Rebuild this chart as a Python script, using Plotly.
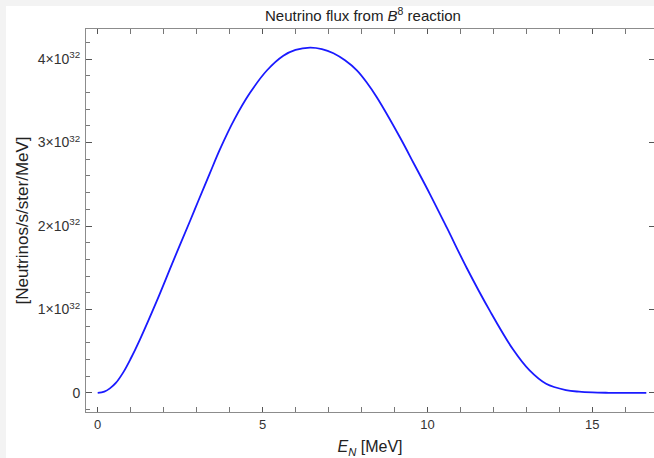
import plotly.graph_objects as go

# Data (energy in MeV, flux in units of 1e32)
energy = [0, 0.2, 0.37, 0.55, 0.78, 1.0, 1.28, 1.79, 2.29, 2.80, 3.05, 3.4, 3.71,
          4.15, 4.62, 5.13, 5.63, 6.0, 6.44, 6.8, 7.15, 7.5, 7.86, 8.15, 8.46, 9.17,
          9.6, 10.08, 10.59, 11.19, 11.9, 12.6, 13.1, 13.6, 14.2, 14.6, 15.0,
          15.5, 16.0, 16.64]
flux_e32 = [0, 0.016, 0.055, 0.12, 0.25, 0.41, 0.64, 1.1, 1.58, 2.06, 2.3, 2.63, 2.92,
            3.28, 3.595, 3.863, 4.04, 4.11, 4.138, 4.12, 4.07, 3.985, 3.865, 3.725, 3.545, 3.06,
            2.74, 2.38, 1.98, 1.5, 0.98, 0.52, 0.27, 0.11, 0.035, 0.015, 0.006,
            0.002, 0.0005, 0]
flux = [v * 1e32 for v in flux_e32]

x_tickvals = [0, 5, 10, 15]
y_tickvals = [0, 1e32, 2e32, 3e32, 4e32]
y_ticktext = ["0", "1×10<sup>32</sup>", "2×10<sup>32</sup>", "3×10<sup>32</sup>", "4×10<sup>32</sup>"]

W, H = 654, 458
L, R, T, B = 86, 0, 29, 46
PW, PH = W - L - R, H - T - B

fig = go.Figure()
fig.add_trace(go.Scatter(
    x=energy, y=flux, mode="lines",
    line=dict(color="#1a1aff", width=1.8, shape="spline", smoothing=1.0),
    hoverinfo="skip", showlegend=False,
))
# invisible copy to carry the right-hand mirrored ticks
fig.add_trace(go.Scatter(
    x=energy, y=flux, mode="lines", yaxis="y2",
    line=dict(color="rgba(0,0,0,0)", width=0),
    hoverinfo="skip", showlegend=False,
))

frame_col = "#8c8c8c"
label_family = "Liberation Sans, Arial, sans-serif"
xtick_font = dict(family=label_family, size=13, color="#333333")
ytick_font = dict(family=label_family, size=14, color="#333333")
yr = [-0.228e32, 4.36e32]

# faint grey window border (left and top bands)
shapes = [
    dict(type="rect", xref="paper", yref="paper", layer="below",
         x0=-L / PW, x1=(6 - L) / PW, y0=-B / PH, y1=1 + T / PH,
         fillcolor="#f3f3f3", line=dict(width=0)),
    dict(type="rect", xref="paper", yref="paper", layer="below",
         x0=-L / PW, x1=1, y0=1 + (T - 6) / PH, y1=1 + T / PH,
         fillcolor="#f3f3f3", line=dict(width=0)),
]

fig.update_layout(
    width=W, height=H,
    margin=dict(l=L, r=R, t=T, b=B, pad=0),
    paper_bgcolor="white", plot_bgcolor="white",
    shapes=shapes,
    title=dict(
        text="Neutrino flux from <i>B</i><sup>8</sup> reaction",
        x=363 / W, xanchor="center", y=1 - 16 / H, yanchor="middle",
        font=dict(family=label_family, size=15, color="#222222"),
    ),
    xaxis=dict(
        range=[-0.355, 16.873], showgrid=False, zeroline=False,
        showline=True, linecolor=frame_col, linewidth=1, mirror="allticks",
        ticks="inside", ticklen=5, tickwidth=1, tickcolor="#555555",
        tickvals=x_tickvals, ticktext=[str(v) for v in x_tickvals],
        tickfont=xtick_font,
        minor=dict(dtick=1, tick0=0, ticks="inside", ticklen=3, tickcolor="#777777", showgrid=False),
        title=dict(text="<i>E</i><sub><i>N</i></sub> [MeV]",
                   font=dict(family=label_family, size=16, color="#222222"),
                   standoff=10),
    ),
    yaxis=dict(
        range=yr, showgrid=False, zeroline=False,
        showline=True, linecolor=frame_col, linewidth=1,
        ticks="inside", ticklen=6, tickwidth=1, tickcolor="#555555",
        tickvals=y_tickvals, ticktext=y_ticktext,
        tickfont=ytick_font, ticklabelstandoff=2,
        minor=dict(dtick=0.2e32, tick0=0, ticks="inside", ticklen=3.5, tickcolor="#777777", showgrid=False),
        title=dict(text="[Neutrinos/s/ster/MeV]",
                   font=dict(family=label_family, size=17, color="#222222"),
                   standoff=4),
    ),
    yaxis2=dict(
        range=yr, overlaying="y", side="right", showgrid=False, zeroline=False,
        showline=False, ticks="inside", ticklen=5, tickcolor="#555555",
        tickvals=y_tickvals, showticklabels=False,
    ),
)

fig.write_html("out.html")
